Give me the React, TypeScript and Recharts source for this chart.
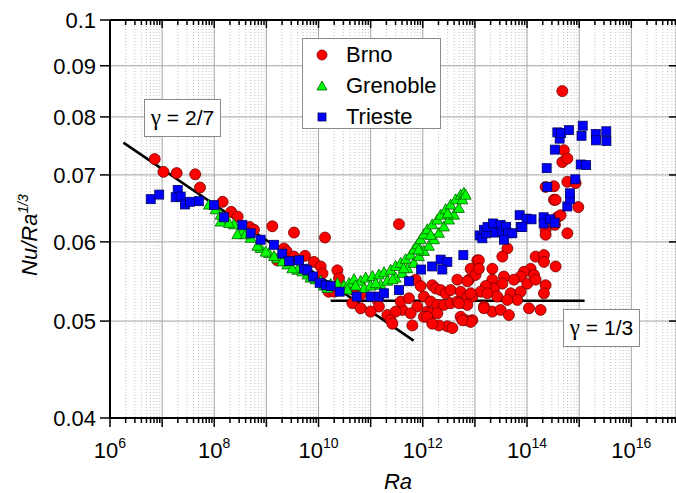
import React from 'react';
import { ScatterChart, Scatter, XAxis, YAxis, CartesianGrid, ReferenceLine } from 'recharts';

const FONT = '"Liberation Sans", Arial, Helvetica, sans-serif';

// axis structure
const raDecades = [1e6, 1e7, 1e8, 1e9, 1e10, 1e11, 1e12, 1e13, 1e14, 1e15, 1e16];
const raLabelled = [1e6, 1e8, 1e10, 1e12, 1e14, 1e16];
const raMax = 7.2e16;
const minorFactors = [2, 3, 4, 5, 6, 7, 8, 9];
const raMinor = raDecades.flatMap(d => minorFactors.map(f => f * d)).filter(v => v < raMax);
const raTicks = [...raDecades, ...raMinor].sort((a, b) => a - b);
const nuTicks = [0.04, 0.05, 0.06, 0.07, 0.08, 0.09, 0.1];

// [Ra, Nu/Ra^(1/3)]
const brno = [
  [7.2e6, 0.0726], [1.06e7, 0.0705], [1.9e7, 0.0703], [4.31e7, 0.0701], [5.32e7, 0.068],
  [1.45e8, 0.0658], [2.11e8, 0.0643], [2.81e8, 0.0636], [4.78e8, 0.0621], [5.78e8, 0.0617],
  [1.3e9, 0.0622], [3.38e9, 0.0613], [1.33e10, 0.0606], [2.17e9, 0.0591], [2.45e9, 0.0587],
  [3.38e9, 0.058], [5.5e9, 0.0581], [8.18e9, 0.0573], [1.1e10, 0.0567], [1.19e10, 0.0558],
  [1.56e10, 0.0535], [1.62e9, 0.0575], [3.49e11, 0.0625], [2.3e10, 0.0562], [2.47e10, 0.0552],
  [4.79e10, 0.0537], [6.43e10, 0.0531], [1.34e11, 0.0525], [1.44e11, 0.0517], [4.46e10, 0.0521],
  [6.43e10, 0.0515], [1.0e11, 0.0511], [2.09e11, 0.0507], [4.06e11, 0.0513], [3.76e11, 0.0523],
  [5.43e11, 0.0527], [7.3e11, 0.055], [9.1e11, 0.0542], [1.05e12, 0.0529], [7.87e11, 0.0517],
  [5.85e11, 0.0509], [1.22e12, 0.0511], [6.31e11, 0.0495], [1.52e12, 0.0543], [1.77e12, 0.0539],
  [2.2e12, 0.0537], [2.74e12, 0.0533], [1.42e12, 0.0523], [1.9e12, 0.0519], [2.55e12, 0.0519],
  [3.42e12, 0.0521], [4.6e12, 0.0523], [6.15e12, 0.0521], [1.05e12, 0.0505], [1.42e12, 0.0509],
  [2.96e12, 0.0494], [3.69e12, 0.0492], [6.64e12, 0.0501], [8.93e12, 0.0501], [4.6e12, 0.055],
  [3.42e12, 0.0537], [5.32e12, 0.0535], [7.67e12, 0.055], [8.28e12, 0.0564], [1.03e13, 0.0556],
  [1.11e13, 0.0575], [7.16e12, 0.0529], [3.01e11, 0.0511], [2.42e11, 0.0501], [2.61e11, 0.0497],
  [2.27e14, 0.0681], [3.28e14, 0.0661], [2.27e14, 0.0617], [3.81e14, 0.0635], [4.19e13, 0.0591],
  [3.36e13, 0.058], [1.19e13, 0.0575], [1.19e13, 0.0564], [2.16e13, 0.0564], [1.46e14, 0.058],
  [2.11e14, 0.0582], [2.11e14, 0.0573], [3.53e14, 0.0567], [1.17e14, 0.0564], [8.71e13, 0.056],
  [7.53e13, 0.0554], [1.36e14, 0.0556], [1.01e14, 0.0545], [1.46e14, 0.055], [2.27e14, 0.0543],
  [2.11e14, 0.0533], [5.6e13, 0.055], [3.6e13, 0.0554], [3.36e13, 0.0545], [2.16e13, 0.055],
  [2.32e13, 0.0539], [1.61e13, 0.0542], [1.29e13, 0.0535], [8.93e12, 0.0529], [1.73e13, 0.0533],
  [2.69e13, 0.0529], [4.84e13, 0.0533], [7.53e13, 0.0535], [6.5e13, 0.0525], [4.19e13, 0.0525],
  [1.49e13, 0.0517], [2.16e13, 0.0511], [3.11e13, 0.0513], [4.49e13, 0.0507], [1.09e14, 0.0515],
  [1.82e14, 0.0513], [1.9e12, 0.0509], [5.32e12, 0.0505], [7.16e12, 0.0519], [4.93e12, 0.0521],
  [4.75e14, 0.0849], [5.09e14, 0.0741], [4.75e14, 0.0721], [5.93e14, 0.0727], [3.28e14, 0.0682],
  [5.93e14, 0.0689], [8.55e14, 0.0687], [3.53e14, 0.0661], [9.62e14, 0.065], [4.41e14, 0.0638],
  [3.43e14, 0.0624], [2.27e14, 0.061], [5.93e14, 0.0612], [7.16e12, 0.0548], [8.28e12, 0.0533],
  [1.49e13, 0.0515], [8.28e12, 0.0499], [2.04e12, 0.0495], [1.22e12, 0.0505], [5.74e12, 0.0501],
  [1.98e10, 0.0535], [1.52e12, 0.0497],
];

const grenoble = [
  [7.92e7, 0.0653], [1.06e8, 0.0646], [1.33e8, 0.0638], [1.66e8, 0.0631], [2.39e8, 0.0624],
  [3.46e8, 0.0614], [4.99e8, 0.0605], [7.76e8, 0.0591], [1.12e9, 0.0584], [1.62e9, 0.0577],
  [2.52e9, 0.0569], [3.93e9, 0.0562], [6.11e9, 0.0556], [8.81e9, 0.055], [1.27e10, 0.0542],
  [2.3e10, 0.0545], [3.08e10, 0.0542], [1.33e8, 0.0628], [2.77e8, 0.061], [6.71e8, 0.0594],
  [1.4e9, 0.058], [3.15e9, 0.0564], [4.9e9, 0.056], [7.06e9, 0.0552], [1.48e10, 0.0539],
  [2.02e9, 0.0573], [4.01e8, 0.061], [1.91e8, 0.0626], [9.68e8, 0.0586], [1.1e10, 0.0548],
  [1.71e10, 0.0544], [3.84e10, 0.0545], [4.79e10, 0.055], [6.43e10, 0.0548], [8.02e10, 0.0552],
  [1.08e11, 0.0554], [1.44e11, 0.0556], [1.8e11, 0.0559], [2.42e11, 0.0562], [3.01e11, 0.0567],
  [3.76e11, 0.0571], [4.69e11, 0.0576], [5.85e11, 0.0582], [6.76e11, 0.0589], [7.87e11, 0.0596],
  [9.1e11, 0.0603], [1.05e12, 0.061], [1.22e12, 0.0617], [1.52e12, 0.0624], [1.9e12, 0.0631],
  [2.2e12, 0.0638], [2.74e12, 0.0646], [3.42e12, 0.0653], [4.27e12, 0.0661], [5.32e12, 0.0668],
  [6.15e12, 0.0671], [7.43e10, 0.0539], [1.0e11, 0.0542], [1.56e11, 0.0543], [2.09e11, 0.0548],
  [3.01e11, 0.0552], [4.06e11, 0.0558], [5.06e11, 0.0564], [6.76e11, 0.0571], [8.43e11, 0.058],
  [1.05e12, 0.0587], [1.31e12, 0.0594], [1.64e12, 0.0603], [2.04e12, 0.0612], [2.55e12, 0.0621],
  [3.18e12, 0.0631], [3.96e12, 0.0638], [4.93e12, 0.0648], [5.74e12, 0.0661], [6.64e12, 0.0668],
  [5.15e10, 0.0542], [1.25e11, 0.0545], [2.64e11, 0.055], [4.3e11, 0.0564], [8.34e11, 0.0589],
  [1.42e12, 0.0609], [3.0e12, 0.064], [3.57e10, 0.0537],
];

const trieste = [
  [6.04e6, 0.0662], [8.79e6, 0.0669], [1.99e7, 0.0676], [1.82e7, 0.0665], [2.27e7, 0.0666],
  [2.74e7, 0.0654], [3.42e7, 0.0658], [5.09e7, 0.0659], [9.88e7, 0.0653], [1.54e8, 0.0635],
  [3.46e8, 0.0624], [4.99e8, 0.0612], [7.76e8, 0.0603], [1.4e9, 0.0596], [2.02e9, 0.0584],
  [2.71e9, 0.0574], [4.22e9, 0.0575], [5.26e9, 0.0564], [6.11e9, 0.0562], [7.89e9, 0.0554],
  [1.05e10, 0.0546], [1.37e10, 0.0543], [1.71e10, 0.0542], [2.54e10, 0.0535], [5.38e10, 0.0529],
  [1.0e11, 0.0529], [1.44e11, 0.0529], [1.8e11, 0.0533], [3.49e11, 0.0537], [5.43e11, 0.0548],
  [9.3e11, 0.0563], [1.51e12, 0.0567], [2.2e12, 0.0576], [2.96e12, 0.0573], [2.37e12, 0.0563],
  [6.0e12, 0.0582], [1.23e13, 0.0609], [1.39e13, 0.0605], [1.49e13, 0.0617], [1.64e13, 0.0612],
  [1.75e13, 0.0621], [2.23e13, 0.0626], [2.49e13, 0.0613], [3.11e13, 0.0624], [3.36e13, 0.0614],
  [3.97e13, 0.0621], [4.32e13, 0.0612], [3.6e13, 0.0603], [5.22e13, 0.0612], [7.2e13, 0.0638],
  [7.53e13, 0.0621], [9.82e13, 0.0633], [1.22e14, 0.0632], [2.08e14, 0.0635], [2.08e14, 0.0626],
  [2.75e14, 0.0632], [3.38e14, 0.0627], [8.11e13, 0.0621], [5.93e14, 0.0651], [6.7e14, 0.0662],
  [6.66e14, 0.0671], [8.43e14, 0.0693], [2.45e14, 0.0681], [2.38e14, 0.0711], [3.41e14, 0.0742],
  [4.22e14, 0.0761], [3.81e14, 0.0772], [4.51e14, 0.0771], [6.36e14, 0.0776], [1.11e15, 0.0766],
  [1.17e15, 0.0784], [1.07e15, 0.0717], [1.36e15, 0.0716], [2.08e15, 0.0769], [2.1e15, 0.0758],
  [3.31e15, 0.0774], [3.33e15, 0.0757],
];

// fitted power laws, end points
const fitTwoSevenths = [[1.81e6, 0.0754], [6.68e11, 0.0478]];
const fitOneThird = [[1.71e10, 0.0524], [1.27e15, 0.0524]];

const toPts = (arr: number[][]) => arr.map(([ra, v]) => ({ ra, v }));
const toSegment = (arr: number[][]) => arr.map(([x, y]) => ({ x, y }));

const BottomTick = ({ x, y, payload }: any) => {
  const v = payload.value;
  const major = raDecades.includes(v);
  const e = Math.round(Math.log10(v));
  return (
    <g>
      <line x1={x} x2={x} y1={y} y2={y + (major ? 9 : 5)} stroke="#000" strokeWidth={1.5} />
      {raLabelled.includes(v) && (
        <text x={x} y={y + 40} textAnchor="middle" fontSize={22} fill="#000" fontFamily={FONT}>
          10<tspan dy={-10} fontSize={14}>{e}</tspan>
        </text>
      )}
    </g>
  );
};

const TopTick = ({ x, y, payload }: any) => {
  const major = raDecades.includes(payload.value);
  return <line x1={x} x2={x} y1={y} y2={y + (major ? 8 : 5)} stroke="#000" strokeWidth={1.5} />;
};

const LeftTick = ({ x, y, payload }: any) => (
  <g>
    <line x1={x - 10} x2={x} y1={y} y2={y} stroke="#000" strokeWidth={1.5} />
    <text x={x - 14} y={y} dy="0.36em" textAnchor="end" fontSize={22} fill="#000" fontFamily={FONT}>
      {String(payload.value)}
    </text>
  </g>
);

const RightTick = ({ x, y }: any) => (
  <line x1={x - 7} x2={x} y1={y} y2={y} stroke="#000" strokeWidth={1.5} />
);

const Circle = (p: any) => (
  <circle cx={p.cx} cy={p.cy} r={5.5} fill="#ff0000" stroke="#700000" strokeWidth={0.8} />
);
const Triangle = (p: any) => (
  <polygon
    points={`${p.cx},${p.cy - 6} ${p.cx + 5.5},${p.cy + 4} ${p.cx - 5.5},${p.cy + 4}`}
    fill="#00ff00"
    stroke="#006000"
    strokeWidth={0.8}
  />
);
const Square = (p: any) => (
  <rect x={p.cx - 4.5} y={p.cy - 4.5} width={9} height={9} fill="#0000ff" stroke="#000060" strokeWidth={0.8} />
);
const NoMark = () => <g />;

const boxStyle: React.CSSProperties = {
  position: 'absolute',
  background: '#fff',
  border: '1px solid #8a8a8a',
  boxSizing: 'border-box',
  fontSize: 21,
  color: '#000',
  display: 'flex',
  alignItems: 'center',
  justifyContent: 'center',
  whiteSpace: 'pre',
};

const legendRows = [
  { name: 'Brno', icon: <circle cx={6} cy={6} r={5} fill="#ff0000" stroke="#700000" strokeWidth={0.8} /> },
  { name: 'Grenoble', icon: <polygon points="6,1 11,10 1,10" fill="#00ff00" stroke="#006000" strokeWidth={0.8} /> },
  { name: 'Trieste', icon: <rect x={2} y={2} width={8} height={8} fill="#0000ff" stroke="#000060" strokeWidth={0.8} /> },
];

const logX = { type: 'number' as const, scale: 'log' as const, domain: [1e6, raMax], allowDataOverflow: true };
const logY = { type: 'number' as const, scale: 'log' as const, domain: [0.04, 0.1], allowDataOverflow: true };

const Gamma = ({ frac }: { frac: string }) => (
  <span>
    <span style={{ fontFamily: '"Liberation Serif", "DejaVu Serif", serif', fontSize: 23 }}>γ</span>
    {' = ' + frac}
  </span>
);

export default function App() {
  const frameData = toPts(fitOneThird);
  return (
    <div style={{ position: 'relative', width: 668, height: 485, margin: '8px 0 0 8px', fontFamily: FONT }}>
      <style>{'body{margin:0}'}</style>
      <ScatterChart width={668} height={485} margin={{ top: 11, right: -1, bottom: 0, left: 0 }}>
        <XAxis xAxisId="m" dataKey="ra" hide {...logX} ticks={raMinor} interval={0} />
        <XAxis xAxisId="d" dataKey="ra" hide {...logX} ticks={raDecades} interval={0} />
        <CartesianGrid xAxisId="m" yAxisId="l" horizontal={false} stroke="#c4c4c4" strokeDasharray="1 2" />
        <CartesianGrid xAxisId="d" yAxisId="l" stroke="#a4a4a4" />
        <XAxis
          xAxisId="b"
          dataKey="ra"
          {...logX}
          ticks={raTicks}
          interval={0}
          tick={(p: any) => <BottomTick {...p} />}
          tickLine={false}
          tickSize={0}
          tickMargin={0}
          height={75}
          axisLine={{ stroke: '#000', strokeWidth: 2 }}
          label={{
            content: () => (
              <text x={390} y={481} textAnchor="middle" fontSize={22} fontStyle="italic" fontFamily={FONT} fill="#000">
                Ra
              </text>
            ),
          }}
        />
        <XAxis
          xAxisId="t"
          dataKey="ra"
          orientation="top"
          {...logX}
          ticks={raTicks}
          interval={0}
          tick={(p: any) => <TopTick {...p} />}
          tickLine={false}
          tickSize={0}
          tickMargin={0}
          height={1}
          axisLine={{ stroke: '#000', strokeWidth: 2 }}
        />
        <YAxis
          yAxisId="l"
          dataKey="v"
          {...logY}
          ticks={nuTicks}
          interval={0}
          width={102}
          tick={(p: any) => <LeftTick {...p} />}
          tickLine={false}
          tickSize={0}
          tickMargin={0}
          axisLine={{ stroke: '#000', strokeWidth: 2 }}
          label={{
            content: () => (
              <text
                x={29}
                y={227}
                transform="rotate(-90, 29, 227)"
                textAnchor="middle"
                fontSize={22}
                fontStyle="italic"
                fontFamily={FONT}
                fill="#000"
              >
                Nu/Ra<tspan dy={-9} fontSize={14}>1/3</tspan>
              </text>
            ),
          }}
        />
        <YAxis
          yAxisId="r"
          dataKey="v"
          orientation="right"
          {...logY}
          ticks={nuTicks}
          interval={0}
          width={1}
          tick={(p: any) => <RightTick {...p} />}
          tickLine={false}
          tickSize={0}
          tickMargin={0}
          axisLine={false}
        />
        {/* empty-shaped series so the frame / grid axes get a scale */}
        <Scatter xAxisId="m" yAxisId="l" data={frameData} shape={NoMark} isAnimationActive={false} legendType="none" />
        <Scatter xAxisId="d" yAxisId="l" data={frameData} shape={NoMark} isAnimationActive={false} legendType="none" />
        <Scatter xAxisId="t" yAxisId="r" data={frameData} shape={NoMark} isAnimationActive={false} legendType="none" />
        <Scatter xAxisId="b" yAxisId="l" name="Brno" data={toPts(brno)} shape={Circle} isAnimationActive={false} />
        <Scatter xAxisId="b" yAxisId="l" name="Grenoble" data={toPts(grenoble)} shape={Triangle} isAnimationActive={false} />
        <Scatter xAxisId="b" yAxisId="l" name="Trieste" data={toPts(trieste)} shape={Square} isAnimationActive={false} />
        <ReferenceLine xAxisId="b" yAxisId="l" segment={toSegment(fitTwoSevenths)} stroke="#000" strokeWidth={2.5} ifOverflow="visible" />
        <ReferenceLine xAxisId="b" yAxisId="l" segment={toSegment(fitOneThird)} stroke="#000" strokeWidth={2.5} ifOverflow="visible" />
      </ScatterChart>

      <div style={{ ...boxStyle, left: 294, top: 30, width: 139, height: 91, display: 'block', fontSize: 22 }}>
        {legendRows.map((r, i) => (
          <div key={r.name} style={{ position: 'absolute', left: 0, top: 2 + i * 31, height: 28, width: '100%' }}>
            <svg width={12} height={12} style={{ position: 'absolute', left: 13, top: 8 }}>
              {r.icon}
            </svg>
            <span style={{ position: 'absolute', left: 43, whiteSpace: 'nowrap', lineHeight: '28px', top: 0 }}>{r.name}</span>
          </div>
        ))}
      </div>

      <div style={{ ...boxStyle, left: 136, top: 91, width: 77, height: 38 }}>
        <Gamma frac="2/7" />
      </div>
      <div style={{ ...boxStyle, left: 555, top: 301, width: 77, height: 38 }}>
        <Gamma frac="1/3" />
      </div>
    </div>
  );
}
